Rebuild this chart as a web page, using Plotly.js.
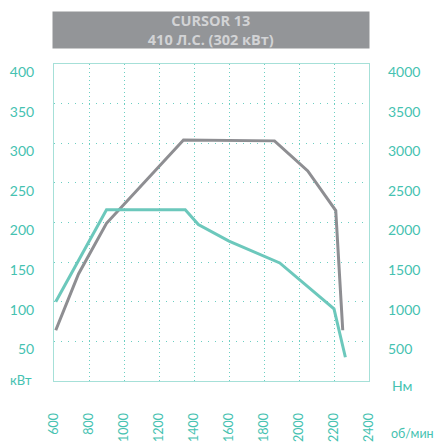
<!DOCTYPE html>
<html><head><meta charset="utf-8">
<script src="https://cdn.plot.ly/plotly-3.0.1.min.js"></script>
<style>html,body{margin:0;padding:0;background:#fff}#c{width:435px;height:442px}</style>
</head><body><div id="c"></div>
<script>
const powerRpm = [610, 740, 900, 1340, 1860, 2050, 2210, 2250];
const powerKw  = [64, 135, 199, 304, 303, 265, 215, 64];
const torqueRpm = [610, 900, 1350, 1425, 1600, 1890, 2200, 2265];
const torqueNm  = [1000, 2160, 2160, 1975, 1765, 1490, 910, 300];
const rpmTicks = [600, 800, 1000, 1200, 1400, 1600, 1800, 2000, 2200, 2400];
const kwTicks = [50, 100, 150, 200, 250, 300, 350, 400];
const nmTicks = [500, 1000, 1500, 2000, 2500, 3000, 3500, 4000];
const titleLines = ['CURSOR 13', '410 Л.С. (302 кВт)'];

const teal = '#6cc8bc', gray = '#8e8e92', txt = '#45c2b1', grid = '#6ccfc2';
const font = 'Lato, "Open Sans", sans-serif';

const data = [
  {x: powerRpm, y: powerKw, type: 'scatter', mode: 'lines', line: {color: gray, width: 3}, yaxis: 'y', hoverinfo: 'skip'},
  {x: torqueRpm, y: torqueNm, type: 'scatter', mode: 'lines', line: {color: teal, width: 3}, yaxis: 'y2', hoverinfo: 'skip'}
];

const layout = {
  width: 435, height: 442,
  margin: {l: 54.3, r: 66.3, t: 63.7, b: 61.4, pad: 0},
  paper_bgcolor: '#fff', plot_bgcolor: '#fff',
  showlegend: false,
  font: {family: font, color: txt, size: 14},
  xaxis: {
    range: [600, 2400], tickvals: rpmTicks, ticktext: rpmTicks.map(String),
    tickangle: -90, tickfont: {size: 12.5, color: txt, family: '"Liberation Sans Narrow", Lato, sans-serif'}, ticklabelstandoff: 26,
    showgrid: true, gridcolor: grid, griddash: '1px,3px', gridwidth: 1,
    showline: true, mirror: true, linecolor: '#a6e0d8', linewidth: 1,
    zeroline: false, ticks: ''
  },
  yaxis: {
    range: [0, 400], tickvals: kwTicks, ticktext: kwTicks.map(String),
    tickfont: {size: 14, color: txt}, ticklabelstandoff: 16, ticklabelshift: 8,
    showgrid: true, gridcolor: grid, griddash: '1px,6px', gridwidth: 1,
    showline: true, mirror: true, linecolor: '#a6e0d8', linewidth: 1,
    zeroline: false, ticks: ''
  },
  yaxis2: {
    range: [0, 4000], tickvals: nmTicks, ticktext: nmTicks.map(String),
    overlaying: 'y', side: 'right', showgrid: false, zeroline: false, ticks: '',
    tickfont: {size: 14, color: txt}, ticklabelstandoff: 18, ticklabelshift: 8,
    showline: false
  },
  annotations: [
    {xref: 'paper', yref: 'paper', x: 0.4985, y: 1.0, yshift: 34.1, xanchor: 'center', yanchor: 'middle',
     text: titleLines.join('<br>'), showarrow: false,
     bgcolor: '#939598', width: 315.7, height: 35.7, borderpad: 0,
     font: {family: '"Open Sans", Lato, sans-serif', size: 14.5, weight: 'bold', color: '#d2d3d5'}},
    {xref: 'paper', yref: 'paper', x: 0, y: 0, xshift: -20, yshift: 1, xanchor: 'right', yanchor: 'middle',
     text: 'кВт', showarrow: false, font: {size: 13, color: txt}},
    {xref: 'paper', yref: 'paper', x: 1, y: 0, xshift: 21, yshift: -4, xanchor: 'left', yanchor: 'middle',
     text: 'Нм', showarrow: false, font: {size: 14, color: txt}},
    {xref: 'paper', yref: 'paper', x: 1, y: 0, xshift: 20, yshift: -52, xanchor: 'left', yanchor: 'middle',
     text: 'об/мин', showarrow: false, font: {size: 12.5, color: txt}}
  ]
};

Plotly.newPlot('c', data, layout, {displayModeBar: false, staticPlot: true});
</script></body></html>
